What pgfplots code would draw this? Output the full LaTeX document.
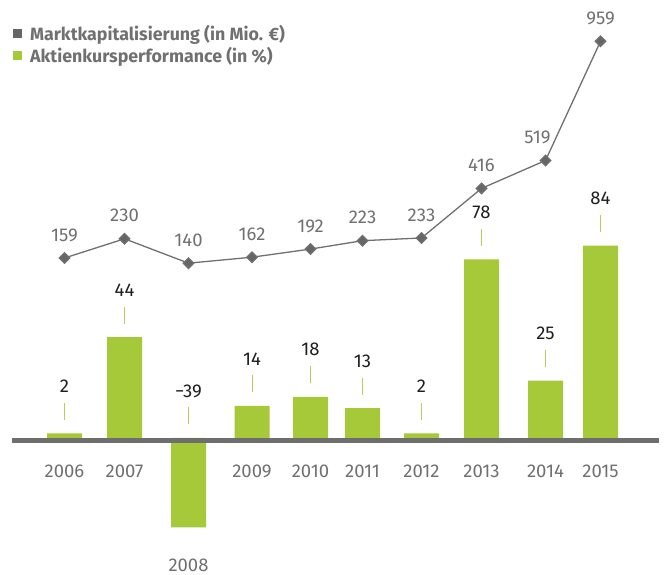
\documentclass[border=0pt]{standalone}
\usepackage{pgfplots}
\pgfplotsset{compat=1.18}
\usepackage{fontspec}
\setmainfont{Fira Sans}
\definecolor{barg}{HTML}{A5C939}
\definecolor{tickg}{HTML}{B2D15C}
\definecolor{basegray}{HTML}{6E6E6E}
\definecolor{linegray}{HTML}{707070}
\definecolor{markgray}{HTML}{666666}
\definecolor{labgray}{HTML}{707070}
\definecolor{numblack}{HTML}{1E1E1E}
\newcommand{\numfont}{\fontsize{18.5}{22}\selectfont}
\begin{document}
\begin{tikzpicture}
\pgfplotsset{base/.style={scale only axis, width=666pt, height=575pt, xmin=0, xmax=666,
  clip=false, axis line style={draw=none}, major tick length=0pt, ytick=\empty}}
\begin{axis}[base, name=bars, ymin=-59.825, ymax=191.266,
  xtick={64.5,124.5,252,310.5,362.5,421.5,481.5,545.5,600.5},
  xticklabels={2006,2007,2009,2010,2011,2012,2013,2014,2015},
  extra x ticks={188.5}, extra x tick labels={2008},
  xticklabel style={anchor=center, inner sep=0pt, yshift=104pt, font=\numfont, text=labgray},
  extra x tick style={xticklabel style={yshift=-94pt}},
  legend style={at={(0,1)}, anchor=north west, xshift=12.5pt, yshift=-25pt, draw=none, fill=none,
    font=\bfseries\fontsize{17.8}{20}\selectfont, text=labgray, row sep=5pt, column sep=9pt, inner sep=0pt,
    nodes={inner sep=0pt}},
  legend cell align=left]
\addlegendimage{legend image code/.code={\fill[markgray] (0pt,-4pt) rectangle (8pt,4pt);}}
\addlegendentry{Marktkapitalisierung (in Mio. €)}
\addlegendimage{legend image code/.code={\fill[barg] (0pt,-4pt) rectangle (8pt,4pt);}}
\addlegendentry{Aktienkursperformance (in \%)}
% Aktienkursperformance (in %)
\addplot[ybar, bar width=35pt, fill=barg, draw=none, forget plot] coordinates {
 (64.5,2) (124.5,44) (188.5,-39) (252,14) (310.5,18) (362.5,13) (421.5,2) (481.5,78) (545.5,25) (600.5,84)};
\draw[basegray, line width=5pt] (axis cs:12,-1.092) -- (axis cs:659,-1.092);
% small ticks above bars
\addplot[draw=none, forget plot, nodes near coords={\textcolor{tickg}{\rule{1pt}{17pt}}},
  every node near coord/.append style={anchor=south, inner sep=0pt, yshift=13.5pt}] coordinates {
 (64.5,2) (124.5,44) (188.5,0) (252,14) (310.5,18) (362.5,13) (421.5,2) (481.5,78) (545.5,25) (600.5,84)};
% value labels of bars
\addplot[draw=none, forget plot, point meta=explicit symbolic, nodes near coords,
  every node near coord/.append style={anchor=center, inner sep=0pt, yshift=47pt, font=\numfont, text=numblack}] coordinates {
 (64.5,2)[2] (124.5,44)[44] (188.5,0)[−39] (252,14)[14] (310.5,18)[18] (362.5,13)[13] (421.5,2)[2] (481.5,78)[78] (545.5,25)[25] (600.5,84)[84]};
\end{axis}
\begin{axis}[base, ymin=-1011.1, ymax=1111.5, xtick=\empty]
% Marktkapitalisierung (in Mio. EUR)
\addplot[linegray, line width=1.3pt, mark=square*, mark size=3.7pt,
  mark options={rotate=45, fill=markgray, draw=none},
  point meta=explicit symbolic, nodes near coords,
  every node near coord/.append style={anchor=center, inner sep=0pt, yshift=23pt, font=\numfont, text=labgray}] coordinates {
 (64.5,159)[159] (124.5,230)[230] (188.5,140)[140] (252,162)[162] (310.5,192)[192] (362.5,223)[223]
 (421.5,233)[233] (481.5,416)[416] (545.5,519)[519\hspace*{16pt}] (600.5,959)[959]};
\end{axis}
\pgfresetboundingbox
\useasboundingbox (bars.south west) rectangle (bars.north east);
\end{tikzpicture}
\end{document}
